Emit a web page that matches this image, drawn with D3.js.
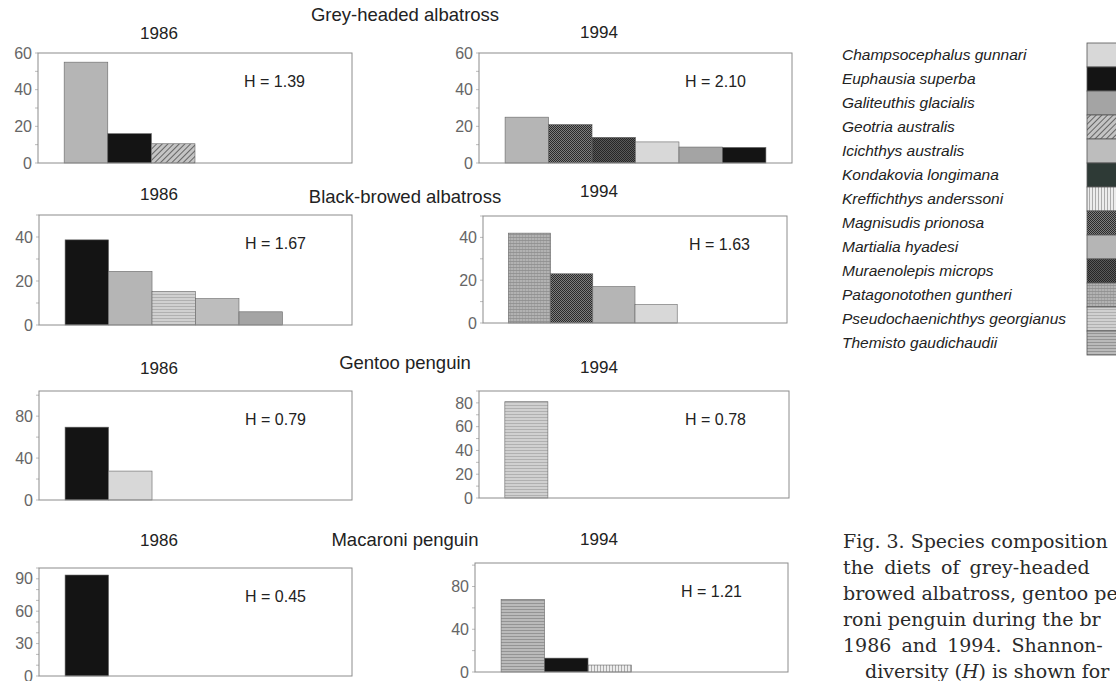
<!DOCTYPE html>
<html>
<head>
<meta charset="utf-8">
<script src="https://cdn.jsdelivr.net/npm/d3@7"></script>
<style>
  body { margin: 0; background: #fff; }
  svg { display: block; font-family: "Liberation Sans", Arial, sans-serif; }
</style>
</head>
<body>
<div id="chart"></div>
<script>
// ---- data ----
const birds = ["Grey-headed albatross", "Black-browed albatross", "Gentoo penguin", "Macaroni penguin"];
const years = ["1986", "1994"];

const species = [
  "Champsocephalus gunnari", "Euphausia superba", "Galiteuthis glacialis", "Geotria australis",
  "Icichthys australis", "Kondakovia longimana", "Kreffichthys anderssoni", "Magnisudis prionosa",
  "Martialia hyadesi", "Muraenolepis microps", "Patagonotothen guntheri",
  "Pseudochaenichthys georgianus", "Themisto gaudichaudii"
];

// % composition per panel (bird x year)
const greyHeaded1986 = [["Martialia hyadesi", 55], ["Euphausia superba", 16], ["Geotria australis", 10.5]];
const greyHeaded1994 = [["Martialia hyadesi", 25], ["Magnisudis prionosa", 21], ["Muraenolepis microps", 14],
                        ["Champsocephalus gunnari", 11.5], ["Galiteuthis glacialis", 8.7], ["Euphausia superba", 8.5]];
const blackBrowed1986 = [["Euphausia superba", 38.7], ["Martialia hyadesi", 24.4], ["Pseudochaenichthys georgianus", 15.2],
                         ["Icichthys australis", 12], ["Galiteuthis glacialis", 6]];
const blackBrowed1994 = [["Patagonotothen guntheri", 42], ["Magnisudis prionosa", 23], ["Martialia hyadesi", 17],
                         ["Champsocephalus gunnari", 8.6]];
const gentoo1986 = [["Euphausia superba", 69.5], ["Champsocephalus gunnari", 27.6]];
const gentoo1994 = [["Pseudochaenichthys georgianus", 81]];
const macaroni1986 = [["Euphausia superba", 93.5]];
const macaroni1994 = [["Themisto gaudichaudii", 68], ["Euphausia superba", 13], ["Kreffichthys anderssoni", 6.5]];

const panelData = [
  [greyHeaded1986, greyHeaded1994],
  [blackBrowed1986, blackBrowed1994],
  [gentoo1986, gentoo1994],
  [macaroni1986, macaroni1994]
];
const diversity = [[1.39, 2.10], [1.67, 1.63], [0.79, 0.78], [0.45, 1.21]];
const yMax = [[60, 60], [50, 50], [104, 90], [100, 102]];
const yTicks = [
  [[0, 20, 40, 60], [0, 20, 40, 60]],
  [[0, 20, 40], [0, 20, 40]],
  [[0, 40, 80], [0, 20, 40, 60, 80]],
  [[0, 30, 60, 90], [0, 40, 80]]
];
const minorStep = [[10, 10], [10, 10], [20, 10], [10, 20]];

// caption as it appears (the page edge cuts it off)
const captionLines = [
  "Fig. 3. Species composition",
  "the diets of grey-headed",
  "browed albatross, gentoo pe",
  "roni penguin during the br",
  "1986 and 1994. Shannon-",
  "diversity (H) is shown for"
];

// ---- layout ----
const W = 1116, H = 681;
const boxes = [
  [{ x: 38, y: 53, w: 314, h: 110 }, { x: 479, y: 53, w: 313, h: 110 }],
  [{ x: 39, y: 215, w: 313, h: 110 }, { x: 483, y: 216, w: 304, h: 107 }],
  [{ x: 39, y: 391, w: 313, h: 109 }, { x: 479, y: 391, w: 310, h: 107 }],
  [{ x: 39, y: 568, w: 313, h: 108 }, { x: 475, y: 563, w: 313, h: 109 }]
];
const titleY = [21, 203, 369, 546];
const yearY = [[39, 38], [200, 197], [374, 373], [546, 545]];
const yearX = [159, 599];

// fill style per species: base colour + texture
const fills = {
  "Champsocephalus gunnari": { base: "#d8d8d8" },
  "Euphausia superba": { base: "#141414" },
  "Galiteuthis glacialis": { base: "#a4a4a4" },
  "Geotria australis": { base: "#c4c4c4", kind: "diag", ink: "#3c3c3c" },
  "Icichthys australis": { base: "#bdbdbd" },
  "Kondakovia longimana": { base: "#2e3a36" },
  "Kreffichthys anderssoni": { base: "#ececec", kind: "vlines", ink: "#9a9a9a" },
  "Magnisudis prionosa": { base: "#7e7e7e", kind: "dots", ink: "#2a2a2a" },
  "Martialia hyadesi": { base: "#b5b5b5" },
  "Muraenolepis microps": { base: "#5a5a5a", kind: "dots", ink: "#262626" },
  "Patagonotothen guntheri": { base: "#b2b2b2", kind: "grid", ink: "#8e8e8e" },
  "Pseudochaenichthys georgianus": { base: "#d0d0d0", kind: "hlines", ink: "#a8a8a8" },
  "Themisto gaudichaudii": { base: "#bababa", kind: "hlines", ink: "#8a8a8a" }
};

const svg = d3.select("#chart").append("svg").attr("width", W).attr("height", H);
svg.append("rect").attr("width", W).attr("height", H).attr("fill", "#fff");
const defs = svg.append("defs");

const fillId = name => "p" + species.indexOf(name);

species.forEach(name => {
  const f = fills[name];
  if (!f.kind) return;
  const s = f.kind === "diag" ? 4 : 3;
  const p = defs.append("pattern").attr("id", fillId(name))
    .attr("patternUnits", "userSpaceOnUse").attr("width", s).attr("height", s);
  p.append("rect").attr("width", s).attr("height", s).attr("fill", f.base);
  if (f.kind === "diag") {
    p.attr("patternTransform", "rotate(45)");
    p.append("line").attr("x1", 0).attr("y1", 0).attr("x2", 0).attr("y2", s)
      .attr("stroke", f.ink).attr("stroke-width", 1.4);
  } else if (f.kind === "vlines") {
    p.append("line").attr("x1", 0.5).attr("y1", 0).attr("x2", 0.5).attr("y2", s)
      .attr("stroke", f.ink).attr("stroke-width", 0.8);
  } else if (f.kind === "hlines") {
    p.append("line").attr("x1", 0).attr("y1", 0.5).attr("x2", s).attr("y2", 0.5)
      .attr("stroke", f.ink).attr("stroke-width", 0.8);
  } else if (f.kind === "grid") {
    p.append("line").attr("x1", 0).attr("y1", 0.5).attr("x2", s).attr("y2", 0.5)
      .attr("stroke", f.ink).attr("stroke-width", 0.8);
    p.append("line").attr("x1", 0.5).attr("y1", 0).attr("x2", 0.5).attr("y2", s)
      .attr("stroke", f.ink).attr("stroke-width", 0.4);
  } else if (f.kind === "dots") {
    p.attr("width", 2).attr("height", 2);
    p.select("rect").attr("width", 2).attr("height", 2);
    p.append("rect").attr("width", 1).attr("height", 1).attr("fill", f.ink);
    p.append("rect").attr("x", 1).attr("y", 1).attr("width", 1).attr("height", 1).attr("fill", f.ink);
  }
});

const fillOf = name => fills[name].kind ? `url(#${fillId(name)})` : fills[name].base;

// ---- panels ----
birds.forEach((bird, r) => {
  svg.append("text").attr("x", 405).attr("y", titleY[r]).attr("text-anchor", "middle")
    .attr("font-size", 18.5).attr("fill", "#222").text(bird);

  years.forEach((yr, c) => {
    const b = boxes[r][c];
    const rows = panelData[r][c];

    svg.append("text").attr("x", yearX[c]).attr("y", yearY[r][c]).attr("text-anchor", "middle")
      .attr("font-size", 17).attr("fill", "#222").text(yr);

    const x = d3.scaleBand().domain(d3.range(6)).range([b.x, b.x + b.w])
      .paddingInner(0).paddingOuter(0.6);
    const y = d3.scaleLinear().domain([0, yMax[r][c]]).range([b.y + b.h, b.y]);

    const g = svg.append("g");

    // minor ticks
    const minor = d3.range(0, yMax[r][c] + 0.01, minorStep[r][c]);
    g.selectAll("line.minor").data(minor).join("line").attr("class", "minor")
      .attr("x1", b.x - 3).attr("x2", b.x).attr("y1", d => y(d)).attr("y2", d => y(d))
      .attr("stroke", "#aaa").attr("stroke-width", 0.8);

    // bars
    g.selectAll("rect.bar").data(rows).join("rect").attr("class", "bar")
      .attr("x", (d, i) => x(i)).attr("width", x.bandwidth())
      .attr("y", d => y(d[1])).attr("height", d => y(0) - y(d[1]))
      .attr("fill", d => fillOf(d[0]))
      .attr("stroke", "#666").attr("stroke-width", 0.6);

    // frame
    g.append("rect").attr("x", b.x).attr("y", b.y).attr("width", b.w).attr("height", b.h)
      .attr("fill", "none").attr("stroke", "#8c8c8c").attr("stroke-width", 1);

    // y axis labels
    const ax = d3.axisLeft(y).tickValues(yTicks[r][c]).tickSize(0).tickPadding(6);
    const axG = g.append("g").attr("transform", `translate(${b.x},0)`).call(ax);
    axG.select(".domain").remove();
    axG.selectAll("text").attr("font-size", 16).attr("fill", "#666")
      .attr("font-family", "Liberation Sans, Arial, sans-serif");

    g.append("text").attr("x", b.x + 206).attr("y", b.y + 34)
      .attr("font-size", 16).attr("fill", "#222")
      .text("H = " + diversity[r][c].toFixed(2));
  });
});

// ---- legend ----
const legY = d3.scaleBand().domain(species).range([43, 355]);
const leg = svg.append("g");
leg.selectAll("text").data(species).join("text")
  .attr("x", 842).attr("y", d => legY(d) + legY.bandwidth() / 2 + 5)
  .attr("font-size", 15.5).attr("font-style", "italic").attr("fill", "#222")
  .text(d => d);
leg.selectAll("rect").data(species).join("rect")
  .attr("x", 1087).attr("y", d => legY(d)).attr("width", 40).attr("height", legY.bandwidth())
  .attr("fill", d => fillOf(d)).attr("stroke", "#555").attr("stroke-width", 0.8);

// ---- caption ----
const cap = svg.append("g").attr("font-family", "DejaVu Serif, serif").attr("font-size", 19).attr("fill", "#2a2a2a");
const capX = [843, 843, 843, 843, 843, 865];
const capSpacing = [0, 4, 0, 0, 4, 0];
captionLines.forEach((line, i) => {
  const t = cap.append("text").attr("x", capX[i]).attr("y", 548 + i * 26)
    .attr("word-spacing", capSpacing[i]);
  if (line.includes("(H)")) {
    const [a, bb] = line.split("H");
    t.append("tspan").text(a);
    t.append("tspan").attr("font-style", "italic").text("H");
    t.append("tspan").text(bb);
  } else {
    t.text(line);
  }
});
</script>
</body>
</html>
